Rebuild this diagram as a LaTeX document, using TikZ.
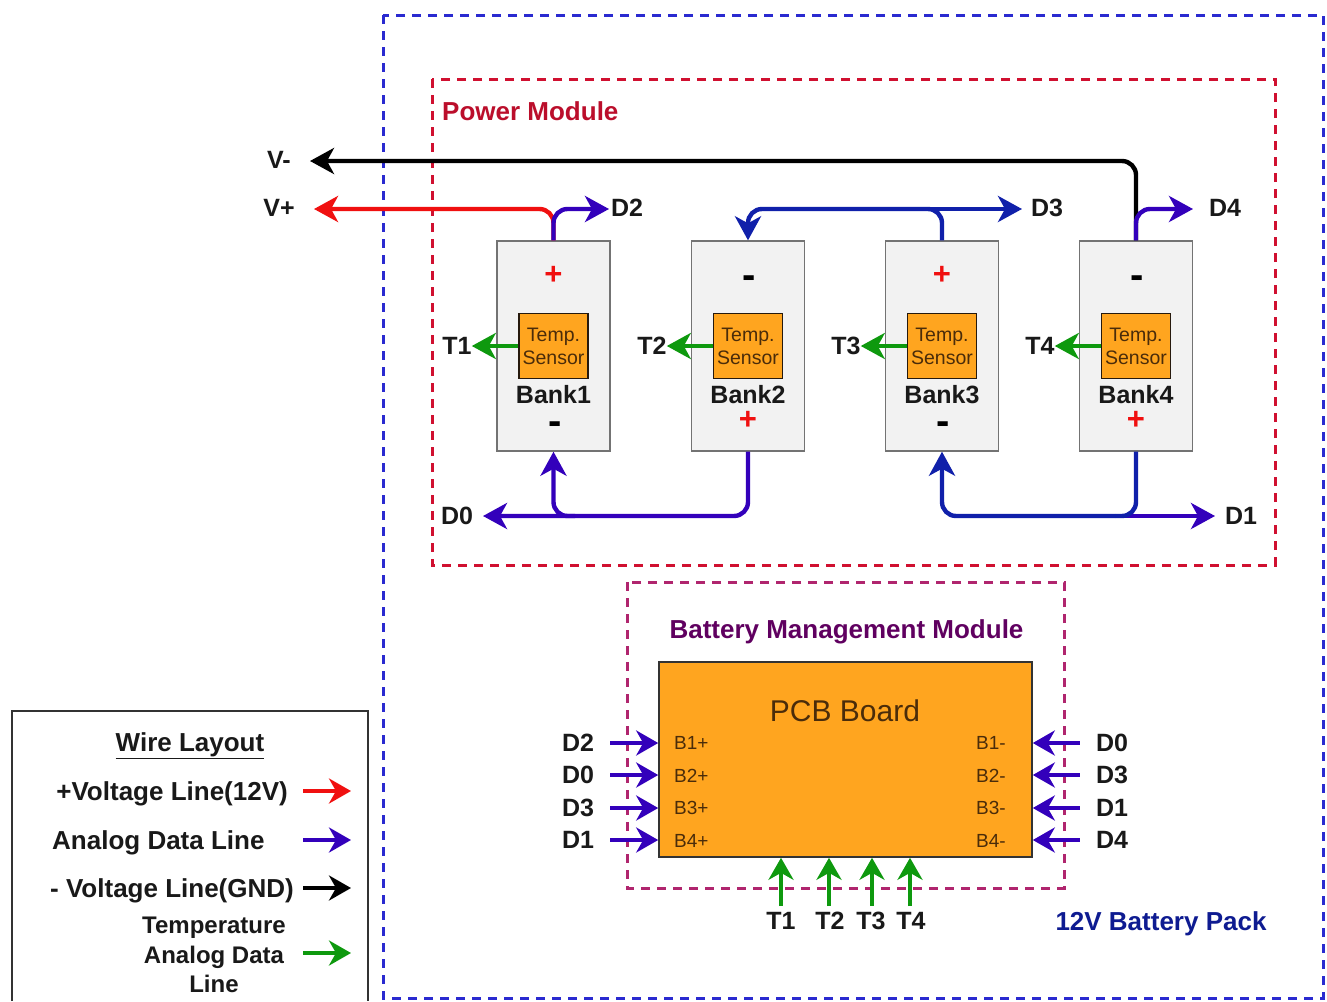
\documentclass[tikz,border=0pt]{standalone}
\usepackage{fontspec}
\setmainfont{Liberation Sans}
\usepackage{tikz}
\usetikzlibrary{arrows.meta,calc,positioning}
\definecolor{packblue}{HTML}{2A2AD0}
\definecolor{powerred}{HTML}{D01030}
\definecolor{bmspink}{HTML}{B0256E}
\definecolor{datablue}{HTML}{3300BB}
\definecolor{darkblue}{HTML}{1020AA}
\definecolor{tempgreen}{HTML}{0E990E}
\definecolor{volred}{HTML}{F01010}
\definecolor{boardorange}{HTML}{FFA51F}
\definecolor{boardtext}{HTML}{4A2C0A}
\tikzset{
	frame/.style={line width=3pt,dash pattern=on 9pt off 7pt},
	wire/.style={line width=4.4pt,rounded corners=14pt},
	tip/.style={-{Stealth[length=24pt,width=26pt,inset=7pt]}},
	thintip/.style={line width=4pt,-{Stealth[length=22pt,width=25pt,inset=7pt]}},
	bank/.style={draw=black!55,fill=black!5,line width=1.4pt,minimum width=113pt,minimum height=210pt,inner sep=0pt},
	sensor/.style={draw=black!80!brown,fill=boardorange,line width=1.4pt,minimum width=69pt,minimum height=65pt,inner sep=0pt,align=center,text=boardtext,font=\fontsize{19.5}{23}\selectfont},
	lbl/.style={inner sep=0pt,font=\fontsize{25}{29}\selectfont\bfseries,text=black!90},
	heading/.style={inner sep=0pt,font=\fontsize{26}{30}\selectfont\bfseries,text=black!90},
	pin/.style={inner sep=0pt,text=boardtext,font=\fontsize{19}{22}\selectfont},
	plus/.style={inner sep=0pt,text=volred,font=\fontsize{31}{31}\selectfont\bfseries},
	minus/.style={inner sep=0pt,text height=14pt,text depth=0pt,text=black,font=\fontsize{40}{40}\selectfont\bfseries}
}
\begin{document}
\begin{tikzpicture}[x=1pt,y=-1pt]
	\useasboundingbox (0,0) rectangle (1327,1001);
	\fill[white] (0,0) rectangle (1327,1001);
	% modules
	\draw[frame,packblue] (383,15) rectangle (1323,998);
	\draw[frame,powerred] (432,79) rectangle (1275,565);
	\draw[frame,bmspink] (627,582) rectangle (1064,888);
	\node[heading,text=powerred!90!black,anchor=west] (powertitle) at (442,111) {Power Module};
	\node[heading,text=violet!75!black] (bmstitle) at (846.5,632) {Battery Management Module};
	\node[heading,text=darkblue!85!black] (packtitle) at (1161,924) {12V Battery Pack};
	% banks
	\node[bank] (bank1) at (553.5,346) {};
	\node[bank] (bank2) at (748,346) {};
	\node[bank] (bank3) at (942,346) {};
	\node[bank] (bank4) at (1136,346) {};
	\node[sensor] (sensor1) at (553.5,346) {Temp.\\Sensor};
	\node[sensor] (sensor2) at (748,346) {Temp.\\Sensor};
	\node[sensor] (sensor3) at (942,346) {Temp.\\Sensor};
	\node[sensor] (sensor4) at (1136,346) {Temp.\\Sensor};
	\node[lbl] (name1) at (553.5,395) {Bank1};
	\node[lbl] (name2) at (748,395) {Bank2};
	\node[lbl] (name3) at (942,395) {Bank3};
	\node[lbl] (name4) at (1136,395) {Bank4};
	\node[plus] (top1) at (553.5,275) {+};
	\node[minus] (top2) at (749,281) {-};
	\node[plus] (top3) at (942,275) {+};
	\node[minus] (top4) at (1137,281) {-};
	\node[minus] (bot1) at (555,427) {-};
	\node[plus] (bot2) at (748,420) {+};
	\node[minus] (bot3) at (943,427) {-};
	\node[plus] (bot4) at (1136,420) {+};
	% outer labels
	\node[lbl] (vminus) at (279,160) {V-};
	\node[lbl] (vplus) at (279,208) {V+};
	\node[lbl] (d2top) at (627,208) {D2};
	\node[lbl] (d3top) at (1047,208) {D3};
	\node[lbl] (d4top) at (1225,208) {D4};
	\node[lbl] (d0bot) at (457,516) {D0};
	\node[lbl] (d1bot) at (1241,516) {D1};
	\node[lbl] (t1top) at (457,346) {T1};
	\node[lbl] (t2top) at (652,346) {T2};
	\node[lbl] (t3top) at (846,346) {T3};
	\node[lbl] (t4top) at (1040,346) {T4};
	\coordinate (vmtip) at (310,161);
	\coordinate (vptip) at (314,209);
	\coordinate (d3tip) at (1022,209);
	\coordinate (d3join) at (920,209);
	\coordinate (d4tip) at (1193,209);
	\coordinate (d2tip) at (609,209);
	\coordinate (d0tip) at (483,516);
	\coordinate (d0join) at (575,516);
	\coordinate (d1tip) at (1215,516);
	\coordinate (d1join) at (1115,516);
	% wires of the pack
	\draw[wire,tip,black] (bank4.north) |- (vmtip);
	\draw[wire,tip,volred] (bank1.north) |- (vptip);
	\draw[wire,tip,datablue] (bank1.north) |- (d2tip);
	\draw[wire,tip,darkblue] (d3join) -- (d3tip);
	\draw[wire,tip,darkblue] (bank3.north) |- (748,209) -- (bank2.north);
	\draw[wire,tip,datablue] (bank4.north) |- (d4tip);
	\draw[wire,tip,datablue] (bank2.south) |- (d0tip);
	\draw[wire,tip,datablue] (d0join) -| (bank1.south);
	\draw[wire,tip,datablue] (d1join) -- (d1tip);
	\draw[wire,darkblue] (bank4.south) |- (d1join);
	\draw[wire,tip,darkblue] (d1join) -| (bank3.south);
	\draw[wire,tip,tempgreen] (sensor1.west) -- (t1top.east);
	\draw[wire,tip,tempgreen] (sensor2.west) -- (t2top.east);
	\draw[wire,tip,tempgreen] (sensor3.west) -- (t3top.east);
	\draw[wire,tip,tempgreen] (sensor4.west) -- (t4top.east);
	% board
	\node[draw=black!80,fill=boardorange,line width=1.6pt,minimum width=373pt,minimum height=195pt,inner sep=0pt] (board) at (845.5,759.5) {};
	\node[inner sep=0pt,text=boardtext,font=\fontsize{30}{34}\selectfont] (boardname) at (845,711) {PCB Board};
	\node[pin,anchor=west] (b1p) at (674,743) {B1+};
	\node[pin,anchor=west] (b2p) at (674,776) {B2+};
	\node[pin,anchor=west] (b3p) at (674,808) {B3+};
	\node[pin,anchor=west] (b4p) at (674,841) {B4+};
	\node[pin,anchor=east] (b1m) at (1006,743) {B1-};
	\node[pin,anchor=east] (b2m) at (1006,776) {B2-};
	\node[pin,anchor=east] (b3m) at (1006,808) {B3-};
	\node[pin,anchor=east] (b4m) at (1006,841) {B4-};
	\node[lbl] (d2l) at (578,743) {D2};
	\node[lbl] (d0l) at (578,775) {D0};
	\node[lbl] (d3l) at (578,808) {D3};
	\node[lbl] (d1l) at (578,840) {D1};
	\node[lbl] (d0r) at (1112,743) {D0};
	\node[lbl] (d3r) at (1112,775) {D3};
	\node[lbl] (d1r) at (1112,808) {D1};
	\node[lbl] (d4r) at (1112,840) {D4};
	\node[lbl] (t1b) at (781,921) {T1};
	\node[lbl] (t2b) at (830,921) {T2};
	\node[lbl] (t3b) at (871,921) {T3};
	\node[lbl] (t4b) at (911,921) {T4};
	\draw[thintip,datablue] ($(d2l.east)+(16,0)$) -- (board.west |- d2l);
	\draw[thintip,datablue] ($(d0l.east)+(16,0)$) -- (board.west |- d0l);
	\draw[thintip,datablue] ($(d3l.east)+(16,0)$) -- (board.west |- d3l);
	\draw[thintip,datablue] ($(d1l.east)+(16,0)$) -- (board.west |- d1l);
	\draw[thintip,datablue] ($(d0r.west)+(-16,0)$) -- (board.east |- d0r);
	\draw[thintip,datablue] ($(d3r.west)+(-16,0)$) -- (board.east |- d3r);
	\draw[thintip,datablue] ($(d1r.west)+(-16,0)$) -- (board.east |- d1r);
	\draw[thintip,datablue] ($(d4r.west)+(-16,0)$) -- (board.east |- d4r);
	\draw[thintip,tempgreen] ($(t1b.north)+(0,-6)$) -- (t1b.north |- board.south);
	\draw[thintip,tempgreen] ($(t2b.north)+(-1,-6)$) -- ($(t2b.north |- board.south)+(-1,0)$);
	\draw[thintip,tempgreen] ($(t3b.north)+(1,-6)$) -- ($(t3b.north |- board.south)+(1,0)$);
	\draw[thintip,tempgreen] ($(t4b.north)+(-1,-6)$) -- ($(t4b.north |- board.south)+(-1,0)$);
	% legend
	\draw[black!80,line width=1.6pt] (12,1001) |- (368,711) -- (368,1001);
	\node[heading] (legendtitle) at (190,746) {\underline{Wire Layout}};
	\node[heading,anchor=east] (legvolt) at (288,794) {+Voltage Line(12V)};
	\node[heading,anchor=west] (legdata) at (52,843) {Analog Data Line};
	\node[heading,anchor=east] (leggnd) at (294,891) {- Voltage Line(GND)};
	\node[lbl,align=center,font=\fontsize{24}{29.5}\selectfont\bfseries] (legtemp) at (214,955) {Temperature\\Analog Data\\Line};
	\coordinate (tipvolt) at (351,791);
	\coordinate (tipdata) at (351,840);
	\coordinate (tipgnd) at (351,888);
	\coordinate (tiptemp) at (351,953);
	\draw[thintip,volred] (303,791) -- (tipvolt);
	\draw[thintip,datablue] (303,840) -- (tipdata);
	\draw[thintip,black] (303,888) -- (tipgnd);
	\draw[thintip,tempgreen] (303,953) -- (tiptemp);
\end{tikzpicture}
\end{document}
